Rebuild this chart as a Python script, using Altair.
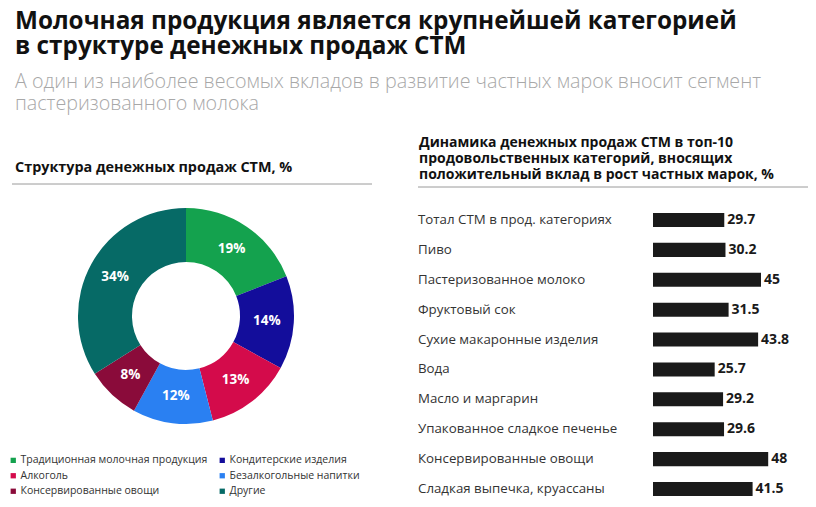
import altair as alt
import pandas as pd

# ---- data ----
pie_categories = [
    "Традиционная молочная продукция",
    "Кондитерские изделия",
    "Алкоголь",
    "Безалкогольные напитки",
    "Консервированные овощи",
    "Другие",
]
pie_values = [19, 14, 13, 12, 8, 34]
pie_colors = ["#14A24E", "#130D9B", "#D40B4B", "#2A80F2", "#8A0B3A", "#066A66"]

bar_categories = [
    "Тотал СТМ в прод. категориях",
    "Пиво",
    "Пастеризованное молоко",
    "Фруктовый сок",
    "Сухие макаронные изделия",
    "Вода",
    "Масло и маргарин",
    "Упакованное сладкое печенье",
    "Консервированные овощи",
    "Сладкая выпечка, круассаны",
]
bar_values = [29.7, 30.2, 45, 31.5, 43.8, 25.7, 29.2, 29.6, 48, 41.5]

title_lines = [
    "Молочная продукция является крупнейшей категорией",
    "в структуре денежных продаж СТМ",
]
subtitle_lines = [
    "А один из наиболее весомых вкладов в развитие частных марок вносит сегмент",
    "пастеризованного молока",
]
left_title = "Структура денежных продаж СТМ, %"
right_title_lines = [
    "Динамика денежных продаж СТМ в топ-10",
    "продовольственных категорий, вносящих",
    "положительный вклад в рост частных марок, %",
]

pie_df = pd.DataFrame({
    "cat": pie_categories,
    "value": pie_values,
    "idx": list(range(len(pie_categories))),
    "label": [f"{v}%" for v in pie_values],
})
bar_df = pd.DataFrame({"cat": bar_categories, "value": bar_values})
one = pd.DataFrame({"a": [0]})

TITLE_FONT = "Open Sans"
BODY_FONT = "Open Sans"

def text_at(text, x, y, size, weight, color, font):
    return alt.Chart(one).mark_text(
        text=text, align="left", baseline="alphabetic",
        fontSize=size, fontWeight=weight, color=color, font=font,
    ).encode(x=alt.value(x), y=alt.value(y))

def hline(x1, x2, y):
    return alt.Chart(one).mark_rule(color="#9a9a9a", strokeWidth=1).encode(
        x=alt.value(x1), x2=alt.value(x2), y=alt.value(y)
    )

layers = []
# titles
layers.append(text_at(title_lines[0], 7, 20.5, 24.3, "bold", "#111111", TITLE_FONT))
layers.append(text_at(title_lines[1], 7, 45.5, 24.3, "bold", "#111111", TITLE_FONT))
layers.append(text_at(subtitle_lines[0], 7, 79.5, 19.7, 300, "#a8a8a8", TITLE_FONT))
layers.append(text_at(subtitle_lines[1], 7, 101.5, 19.7, 300, "#a8a8a8", TITLE_FONT))
layers.append(text_at(left_title, 7, 164, 14.4, "bold", "#111111", BODY_FONT))
layers.append(hline(4, 364, 176))
for i, ln in enumerate(right_title_lines):
    layers.append(text_at(ln, 411, 139 + 16 * i, 14, "bold", "#111111", BODY_FONT))
layers.append(hline(410, 800, 179))

# donut
color = alt.Color(
    "cat:N",
    scale=alt.Scale(domain=pie_categories, range=pie_colors),
    legend=alt.Legend(
        orient="none", legendX=0, legendY=447, columns=2, direction="horizontal",
        title=None, symbolType="square", symbolSize=28, symbolStrokeWidth=0,
        labelFontSize=10.5, labelFont=BODY_FONT, labelColor="#333333",
        labelOffset=2, columnPadding=9, rowPadding=4.5, labelLimit=300,
    ),
)
arc = alt.Chart(pie_df).mark_arc(innerRadius=54, outerRadius=108).encode(
    theta=alt.Theta("value:Q", stack=True),
    color=color,
    order=alt.Order("idx:Q"),
    x=alt.value(178),
    y=alt.value(308),
)
arc_text = alt.Chart(pie_df).mark_text(
    radius=81, fontSize=13.5, fontWeight="bold", color="white", font=BODY_FONT
).encode(
    theta=alt.Theta("value:Q", stack=True),
    order=alt.Order("idx:Q"),
    text="label:N",
    x=alt.value(178),
    y=alt.value(308),
)
layers += [arc, arc_text]

# bars
xs = alt.Scale(domain=[0, 62.5], range=[645, 795])
ys = alt.Scale(domain=bar_categories, range=[202, 491], paddingInner=0.53, paddingOuter=0.1)
bars = alt.Chart(bar_df).mark_bar(color="#1a1a1a").encode(
    x=alt.X("value:Q", scale=xs, axis=None),
    y=alt.Y("cat:N", scale=ys, axis=None, sort=bar_categories),
)
bar_vals = alt.Chart(bar_df).mark_text(
    align="left", baseline="middle", dx=3, fontSize=14, fontWeight="bold",
    color="#1a1a1a", font=BODY_FONT,
).encode(
    x=alt.X("value:Q", scale=xs, axis=None),
    y=alt.Y("cat:N", scale=ys, axis=None, sort=bar_categories),
    text=alt.Text("value:Q", format="~g"),
)
bar_labels = alt.Chart(bar_df).mark_text(
    align="left", baseline="middle", fontSize=13.3, color="#333333", font=BODY_FONT,
).encode(
    x=alt.value(410),
    y=alt.Y("cat:N", scale=ys, axis=None, sort=bar_categories),
    text="cat:N",
)
layers += [bars, bar_vals, bar_labels]

chart = alt.layer(*layers).properties(
    width=800, height=491,
    autosize=alt.AutoSizeParams(type="none"),
    padding=0,
    background="white",
).configure_view(stroke=None)

chart.save("out.html", embed_options={"renderer": "svg", "actions": False})
